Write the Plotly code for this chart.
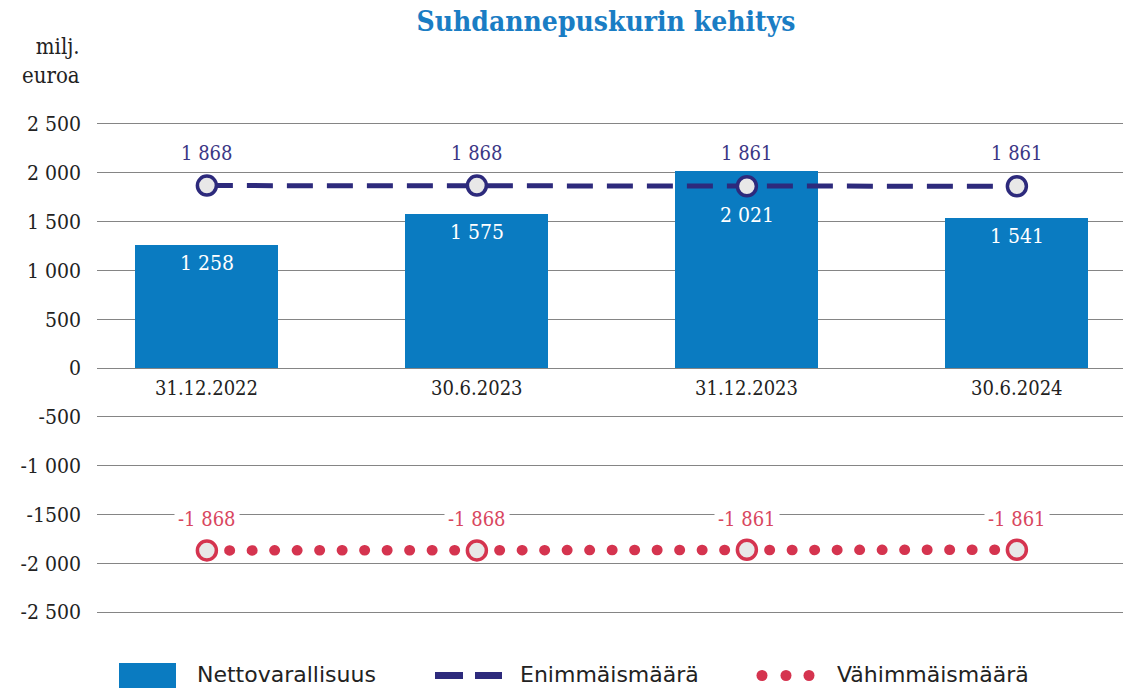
import plotly.graph_objects as go

# ---------------- data ----------------
categories = ["31.12.2022", "30.6.2023", "31.12.2023", "30.6.2024"]
netto = [1258, 1575, 2021, 1541]          # Nettovarallisuus (bars)
enimmais = [1868, 1868, 1861, 1861]        # Enimmäismäärä (max line)
vahimmais = [-1868, -1868, -1861, -1861]   # Vähimmäismäärä (min line)
tick_vals = [2500, 2000, 1500, 1000, 500, 0, -500, -1000, -1500, -2000, -2500]
tick_text = ["2 500", "2 000", "1 500", "1 000", "500", "0", "-500", "-1 000", "-1500", "-2 000", "-2 500"]
series_names = ["Nettovarallisuus", "Enimmäismäärä", "Vähimmäismäärä"]
title_text = "Suhdannepuskurin kehitys"
unit_text = "milj.<br>euroa"

# ---------------- style ----------------
W, H = 1132, 688
PL, PR, PT, PB = 97, 1123, 118, 618   # plot area in page pixels
ML, MR, MT, MB = PL, W - PR, PT, H - PB
BLUE = "#0a7bc1"
NAVY = "#2d2a7c"
NAVY_TXT = "#3b3785"
RED = "#d5344f"
RED_TXT = "#d9475f"
MARK_FILL = "#e8e8e8"
GRID = "#858585"
SERIF = "DejaVu Serif Condensed, DejaVu Serif, serif"
SANS = "DejaVu Sans, Noto Sans, sans-serif"

pw, ph = PR - PL, PB - PT


def px(x):
    return (x - PL) / pw


def py(y):
    return (PB - y) / ph


def fmt(v):
    s = f"{abs(v):,}".replace(",", " ")
    return ("-" if v < 0 else "") + s


xi = list(range(len(categories)))

fig = go.Figure()
fig.add_trace(go.Bar(x=xi, y=netto, width=0.53, marker=dict(color=BLUE, line=dict(width=0)),
                     name=series_names[0], hoverinfo="skip"))
fig.add_trace(go.Scatter(x=xi, y=enimmais, mode="lines+markers", name=series_names[1],
                         line=dict(color=NAVY, width=5, dash="26px,14px"),
                         marker=dict(symbol="circle", size=19, color=MARK_FILL,
                                     line=dict(color=NAVY, width=3.5)),
                         cliponaxis=False, hoverinfo="skip"))
fig.add_trace(go.Scatter(x=xi, y=vahimmais, mode="lines+markers", name=series_names[2],
                         line=dict(color=RED, width=10.5, dash="0.5px,22px"),
                         marker=dict(symbol="circle", size=19, color=MARK_FILL,
                                     line=dict(color=RED, width=3.5)),
                         cliponaxis=False, hoverinfo="skip"))

annotations = []
# bar value labels (white, inside near top; pushed below the max-line marker when overlapping)
for x, v, m in zip(xi, netto, enimmais):
    shift = -44 if abs(v - m) < 250 else -18
    annotations.append(dict(x=x, y=v, xref="x", yref="y", text=fmt(v), showarrow=False,
                            yshift=shift, font=dict(family=SERIF, size=21, color="white")))
# line value labels
for x, v in zip(xi, enimmais):
    annotations.append(dict(x=x, y=v, xref="x", yref="y", text=fmt(v), showarrow=False,
                            yshift=33, font=dict(family=SERIF, size=20, color=NAVY_TXT),
                            bgcolor="white", borderpad=1))
for x, v in zip(xi, vahimmais):
    annotations.append(dict(x=x, y=v, xref="x", yref="y", text=fmt(v), showarrow=False,
                            yshift=31, font=dict(family=SERIF, size=20, color=RED_TXT),
                            bgcolor="white", borderpad=3))
# category labels below zero line
for x, c in zip(xi, categories):
    annotations.append(dict(x=x, y=0, xref="x", yref="y", text=c, showarrow=False,
                            yanchor="top", yshift=-6, font=dict(family=SERIF, size=20, color="#222")))

# unit label
annotations.append(dict(x=px(82), y=py(61), xref="paper", yref="paper", text=unit_text,
                        showarrow=False, xanchor="right", yanchor="middle", align="right",
                        font=dict(family=SERIF, size=22, color="#222")))

# custom legend
shapes = []
shapes.append(dict(type="rect", xref="paper", yref="paper", x0=px(119), x1=px(176), y0=py(663), y1=py(692),
                   fillcolor=BLUE, line=dict(width=0), layer="above"))
for a, b in [(435, 463), (475, 502)]:
    shapes.append(dict(type="rect", xref="paper", yref="paper", x0=px(a), x1=px(b), y0=py(672), y1=py(679),
                       fillcolor=NAVY, line=dict(width=0)))
for cx in [762, 786, 809]:
    shapes.append(dict(type="circle", xref="paper", yref="paper", x0=px(cx - 5.5), x1=px(cx + 5.5),
                       y0=py(670), y1=py(681), fillcolor=RED, line=dict(width=0)))
for xpos, name in zip([195, 518, 835], series_names):
    annotations.append(dict(x=px(xpos), y=py(674), xref="paper", yref="paper", text=name, showarrow=False,
                            xanchor="left", yanchor="middle", font=dict(family=SANS, size=22, color="#222")))

fig.update_layout(
    width=W, height=H,
    margin=dict(l=ML, r=MR, t=MT, b=MB, pad=0),
    paper_bgcolor="white", plot_bgcolor="white",
    showlegend=False,
    title=dict(text=f"<b>{title_text}</b>", x=606 / W, xanchor="center", y=1 - 21 / H,
               yanchor="middle", font=dict(family=SERIF, size=28, color="#1a7dc4")),
    xaxis=dict(range=[-0.407, 3.393], showticklabels=False, showgrid=False, zeroline=False, fixedrange=True),
    yaxis=dict(range=[-2560, 2560], tickvals=tick_vals, ticktext=tick_text, showgrid=True, gridcolor=GRID,
               gridwidth=1, zeroline=True, zerolinecolor=GRID, zerolinewidth=1, ticks="", ticklabelstandoff=15,
               tickfont=dict(family=SERIF, size=21, color="#222"), fixedrange=True),
    annotations=annotations, shapes=shapes,
    bargap=0,
)

post = ("document.body.style.margin='0';"
        "var t=document.getElementById('{plot_id}').querySelectorAll('.scatterlayer .trace');"
        "if(t.length>1){t[1].querySelectorAll('path.js-line').forEach(function(p){"
        "p.style.strokeLinecap='round';});}")
fig.write_html("out.html", post_script=post, config={"displayModeBar": False})
